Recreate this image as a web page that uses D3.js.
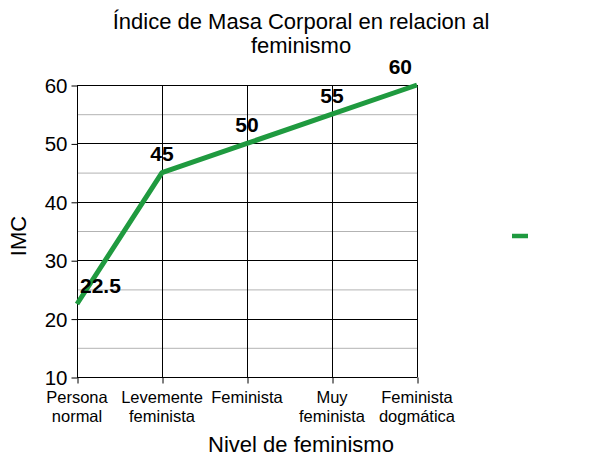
<!DOCTYPE html>
<html><head><meta charset="utf-8">
<script src="https://cdn.jsdelivr.net/npm/d3@7"></script>
<style>body{margin:0;background:#fff}svg{display:block}text{font-family:"Liberation Sans",Arial,sans-serif}</style>
</head><body>
<svg id="c" width="600" height="463"></svg>
<script>
const categories = [["Persona","normal"],["Levemente","feminista"],["Feminista"],["Muy","feminista"],["Feminista","dogmática"]];
const values = [22.5, 45, 50, 55, 60];
const valueLabels = ["22.5","45","50","55","60"];
const yTicks = [10,20,30,40,50,60];
const yMinor = [15,25,35,45,55];
const titleLines = ["Índice de Masa Corporal en relacion al","feminismo"];
const xTitle = "Nivel de feminismo";
const yTitle = "IMC";

const svg = d3.select("#c");
const x0 = 77, x1 = 417, yTop = 85, yBot = 377;
const green = "#1f9a3f";
const x = d3.scalePoint().domain(d3.range(categories.length)).range([x0, x1]);
const y = d3.scaleLinear().domain([10, 60]).range([yBot, yTop]);

// title
svg.append("text").attr("x", 301).attr("y", 29).attr("text-anchor","middle")
  .style("font-size","22px").selectAll("tspan").data(titleLines).join("tspan")
  .attr("x",301).attr("dy",(d,i)=> i? 24:0).text(d=>d);

// minor grid
svg.append("g").selectAll("line").data(yMinor).join("line")
  .attr("x1",x0).attr("x2",x1).attr("y1",d=>y(d)+0.5).attr("y2",d=>y(d)+0.5)
  .attr("stroke","#b3b3b3").attr("stroke-width",1);
// major grid
svg.append("g").selectAll("line").data(yTicks).join("line")
  .attr("x1",x0).attr("x2",x1).attr("y1",d=>Math.round(y(d))+0.5).attr("y2",d=>Math.round(y(d))+0.5)
  .attr("stroke","#000").attr("stroke-width",1);
// vertical grid
svg.append("g").selectAll("line").data(d3.range(categories.length)).join("line")
  .attr("x1",d=>Math.round(x(d))+0.5).attr("x2",d=>Math.round(x(d))+0.5).attr("y1",yTop).attr("y2",yBot)
  .attr("stroke","#000").attr("stroke-width",1);

// y axis
const yAxis = d3.axisLeft(y).tickValues(yTicks).tickSize(6).tickPadding(4);
const ga = svg.append("g").attr("transform",`translate(${x0+0.5},0.5)`).call(yAxis);
ga.select(".domain").remove();
ga.selectAll(".tick line").attr("stroke","#000");
ga.selectAll(".tick text").style("font-size","20.5px").attr("fill","#000")
  .style("font-family","Liberation Sans, Arial, sans-serif").attr("dy","0.34em");

// x axis
const xAxis = d3.axisBottom(x).tickSize(6).tickFormat("");
const gx = svg.append("g").attr("transform",`translate(0.5,${yBot+0.5})`).call(xAxis);
gx.select(".domain").attr("stroke","#000").attr("d",`M${x0},0H${x1}`);
gx.selectAll(".tick line").attr("stroke","#000");
svg.append("g").selectAll("text").data(categories).join("text")
  .attr("text-anchor","middle").style("font-size","16.5px").attr("fill","#000")
  .each(function(d,i){
    d3.select(this).selectAll("tspan").data(d).join("tspan")
      .attr("x", x(i)).attr("y",(t,j)=> 403 + j*18.5).text(t=>t);
  });

// axis titles
svg.append("text").attr("x",301).attr("y",452).attr("text-anchor","middle")
  .style("font-size","22px").text(xTitle);
svg.append("text").attr("transform","translate(26,236) rotate(-90)").attr("text-anchor","middle")
  .style("font-size","22px").text(yTitle);

// line
const line = d3.line().x((d,i)=>x(i)).y(d=>y(d));
svg.append("path").datum(values).attr("d",line).attr("fill","none")
  .attr("stroke",green).attr("stroke-width",5).attr("stroke-linejoin","round");

// data labels
svg.append("g").selectAll("text").data(values).join("text")
  .style("font-size","21px").style("font-weight","bold").attr("text-anchor","middle")
  .attr("y",d=>y(d)-11.5).text((d,i)=>valueLabels[i])
  .each(function(d,i){
    const w = this.getComputedTextLength();
    const cx = Math.max(x0 + w/2 + 3, Math.min(x1 - w/2 - 5, x(i)));
    d3.select(this).attr("x", cx);
  });

// legend
svg.append("line").attr("x1",512).attr("x2",528).attr("y1",236).attr("y2",236)
  .attr("stroke",green).attr("stroke-width",4.5);
</script>
</body></html>
